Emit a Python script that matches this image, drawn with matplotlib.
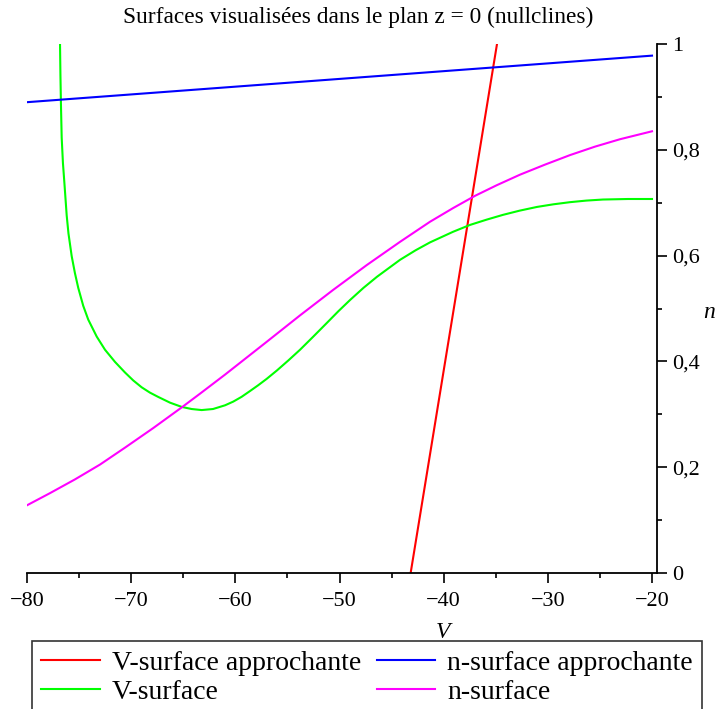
import matplotlib
matplotlib.use("Agg")
import matplotlib.pyplot as plt
from matplotlib.ticker import FixedLocator, FixedFormatter

plt.rcParams['font.family'] = ['Liberation Serif', 'DejaVu Serif']

# ---- data ----
v_surf_V = [-76.83, -76.79, -76.74, -76.67, -76.55, -76.42, -76.19, -76.02, -75.71, -75.40,
            -75.08, -74.60, -74.12, -73.31, -72.51, -71.55, -70.59, -69.80, -68.99, -68.20,
            -67.42, -66.27, -65.15, -64.20, -63.23, -62.14, -60.99, -60.20, -59.40, -58.59,
            -57.80, -56.99, -56.0, -54.90, -53.79, -52.51, -51.20, -50.10, -48.99, -47.70,
            -46.40, -44.19, -42.70, -41.31, -39.10, -37.47, -35.87, -34.31, -32.70, -31.04,
            -29.45, -27.87, -26.30, -24.70, -22.30, -20.0]
v_surf_n = [1.0, 0.94, 0.885, 0.823, 0.775, 0.740, 0.676, 0.642, 0.599, 0.567,
            0.539, 0.505, 0.479, 0.447, 0.422, 0.399, 0.379, 0.364, 0.351, 0.341,
            0.333, 0.322, 0.314, 0.310, 0.308, 0.310, 0.317, 0.324, 0.333, 0.344,
            0.355, 0.367, 0.383, 0.402, 0.422, 0.447, 0.473, 0.495, 0.516, 0.539,
            0.560, 0.592, 0.610, 0.625, 0.645, 0.658, 0.668, 0.677, 0.685, 0.692,
            0.697, 0.701, 0.704, 0.706, 0.707, 0.707]

n_surf_V = [-80.0, -77.79, -75.39, -72.99, -70.59, -67.88, -65.15, -63.39, -60.99,
            -56.99, -53.79, -50.62, -47.39, -44.19, -41.31, -39.08, -36.99, -34.91,
            -32.67, -30.27, -27.87, -25.47, -23.07, -20.0]
n_surf_n = [0.128, 0.151, 0.177, 0.205, 0.237, 0.274, 0.313, 0.339, 0.375,
            0.437, 0.487, 0.535, 0.582, 0.626, 0.664, 0.690, 0.713, 0.733,
            0.753, 0.772, 0.790, 0.806, 0.820, 0.835]

v_approx_V = [-43.17, -34.88]
v_approx_n = [0.0, 1.0]

n_approx_V = [-80.0, -20.0]
n_approx_n = [0.890, 0.978]

x_ticks = [-80, -70, -60, -50, -40, -30, -20]
x_ticklabels = ['\u221280', '\u221270', '\u221260', '\u221250', '\u221240', '\u221230', '\u221220']
y_ticks = [0, 0.2, 0.4, 0.6, 0.8, 1.0]
y_ticklabels = ['0', '0,2', '0,4', '0,6', '0,8', '1']

labels = ['V-surface approchante', 'V-surface', 'n-surface approchante', 'n-surface']

# ---- figure ----
W, H = 717, 709
fig = plt.figure(figsize=(W / 100, H / 100), dpi=100)
left_px, right_px, top_px, bot_px = 27, 657, 44, 573
ax = fig.add_axes([left_px / W, 1 - bot_px / H, (right_px - left_px) / W, (bot_px - top_px) / H])

lw = 1.5
l1, = ax.plot(v_approx_V, v_approx_n, color='#ff0000', lw=lw)
l2, = ax.plot(v_surf_V, v_surf_n, color='#00ff00', lw=lw, solid_joinstyle='round')
l3, = ax.plot(n_approx_V, n_approx_n, color='#0000ff', lw=lw)
l4, = ax.plot(n_surf_V, n_surf_n, color='#ff00ff', lw=lw, solid_joinstyle='round')

ax.set_xlim(-80, -20 + 5 / 10.417)
ax.set_ylim(0, 1)

for s in ['top', 'left']:
    ax.spines[s].set_visible(False)
for s in ['bottom', 'right']:
    ax.spines[s].set_linewidth(1.3)

ax.yaxis.tick_right()
ax.xaxis.set_major_locator(FixedLocator(x_ticks))
ax.xaxis.set_major_formatter(FixedFormatter(x_ticklabels))
ax.xaxis.set_minor_locator(FixedLocator([-75, -65, -55, -45, -35, -25]))
ax.yaxis.set_major_locator(FixedLocator(y_ticks))
ax.yaxis.set_major_formatter(FixedFormatter(y_ticklabels))
ax.yaxis.set_minor_locator(FixedLocator([0.1, 0.3, 0.5, 0.7, 0.9]))

ax.tick_params(axis='both', which='major', direction='out', length=7, width=1.2, labelsize=16)
ax.tick_params(axis='both', which='minor', direction='out', length=3.6, width=1.2)
ax.tick_params(axis='x', which='major', pad=7)
ax.tick_params(axis='y', which='major', pad=4)

fig.text(0.5, 1 - 17 / H, 'Surfaces visualis\u00e9es dans le plan z = 0 (nullclines)',
         ha='center', va='center', fontsize=16.8)
fig.text(709 / W, 1 - 312 / H, 'n', ha='center', va='center', fontsize=17, style='italic')
fig.text(443 / W, 1 - 632 / H, 'V', ha='center', va='center', fontsize=17, style='italic')

leg = fig.legend([l1, l2, l3, l4], labels, ncol=2, loc='upper left',
                 bbox_to_anchor=(32 / W, 1 - 641 / H), fontsize=20,
                 frameon=True, fancybox=False, borderaxespad=0, borderpad=0.33,
                 handlelength=2.1, handletextpad=0.45, columnspacing=0.55,
                 labelspacing=0.14)
leg.get_frame().set_edgecolor('black')
leg.get_frame().set_linewidth(1.2)

fig.savefig('out.png', dpi=100)
